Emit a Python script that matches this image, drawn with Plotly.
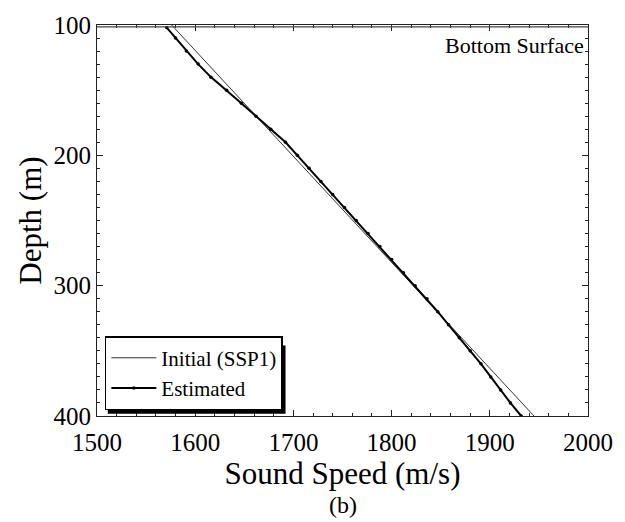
import plotly.graph_objects as go

# Initial sound speed profile (SSP1): depth (m) vs speed (m/s)
initial_depth = [100, 400]
initial_speed = [1576, 1945]

# Estimated sound speed profile
est_depth = [102, 110, 120, 130, 140, 150, 160, 170, 180, 190, 200,
             210, 220, 230, 240, 250, 260, 270, 280, 290, 300,
             310, 320, 330, 340, 350, 360, 370, 380, 390, 400]
est_speed = [1571, 1580, 1591, 1603, 1616, 1632, 1647, 1662, 1677, 1692, 1704,
             1716, 1728, 1740, 1752, 1764, 1776, 1788, 1800, 1812, 1824,
             1836, 1847, 1858, 1869, 1880, 1891, 1901, 1911, 1921, 1932]

x_ticks = [1500, 1600, 1700, 1800, 1900, 2000]
y_ticks = [100, 200, 300, 400]

FONT = "Liberation Serif"

fig = go.Figure()
fig.add_trace(go.Scatter(
    x=initial_speed, y=initial_depth, mode="lines", name="Initial (SSP1)",
    line=dict(color="#333333", width=1),
))
fig.add_trace(go.Scatter(
    x=est_speed, y=est_depth, mode="lines+markers", name="Estimated",
    line=dict(color="black", width=2),
    marker=dict(color="black", size=3.5),
))

# Bottom surface line just below the top frame
fig.add_shape(type="line", xref="paper", yref="y", x0=0, x1=1, y0=101.5, y1=101.5,
              line=dict(color="#444444", width=1.2))

# Drop shadow behind the legend box
fig.add_shape(type="rect", xref="paper", yref="paper",
              x0=0.022, x1=0.384, y0=0.006, y1=0.18,
              fillcolor="black", line=dict(width=0), layer="above")

fig.add_annotation(text="Bottom Surface", xref="paper", yref="paper",
                   x=0.995, y=0.985, xanchor="right", yanchor="top",
                   showarrow=False, font=dict(family=FONT, size=22, color="black"))
fig.add_annotation(text="(b)", xref="paper", yref="paper",
                   x=0.5, y=-0.19, xanchor="center", yanchor="top",
                   showarrow=False, font=dict(family=FONT, size=24, color="black"))

axis_common = dict(
    showgrid=False, zeroline=False, showline=True, linecolor="#222222", linewidth=1,
    mirror="allticks", ticks="inside", ticklen=6, tickcolor="#222222",
    tickfont=dict(family=FONT, size=25, color="black"),
)

fig.update_xaxes(
    range=[1500, 2000], tickvals=x_ticks, ticklabelstandoff=4,
    title=dict(text="Sound Speed (m/s)", font=dict(family=FONT, size=31, color="black"), standoff=2),
    minor=dict(dtick=20, ticks="inside", ticklen=3, tickcolor="#222222"),
    **axis_common,
)
fig.update_yaxes(
    range=[400, 100], tickvals=y_ticks,
    title=dict(text="Depth (m)", font=dict(family=FONT, size=31, color="black"), standoff=2),
    minor=dict(dtick=10, ticks="inside", ticklen=3, tickcolor="#222222"),
    **axis_common,
)

fig.update_layout(
    width=625, height=522,
    margin=dict(l=97, r=36, t=23, b=106),
    paper_bgcolor="white", plot_bgcolor="white",
    showlegend=True,
    legend=dict(
        x=0.016, y=0.015, xanchor="left", yanchor="bottom",
        bgcolor="white", bordercolor="black", borderwidth=1.5,
        font=dict(family=FONT, size=21, color="black"),
        tracegroupgap=0, itemwidth=45,
    ),
)

fig.write_html("out.html")
